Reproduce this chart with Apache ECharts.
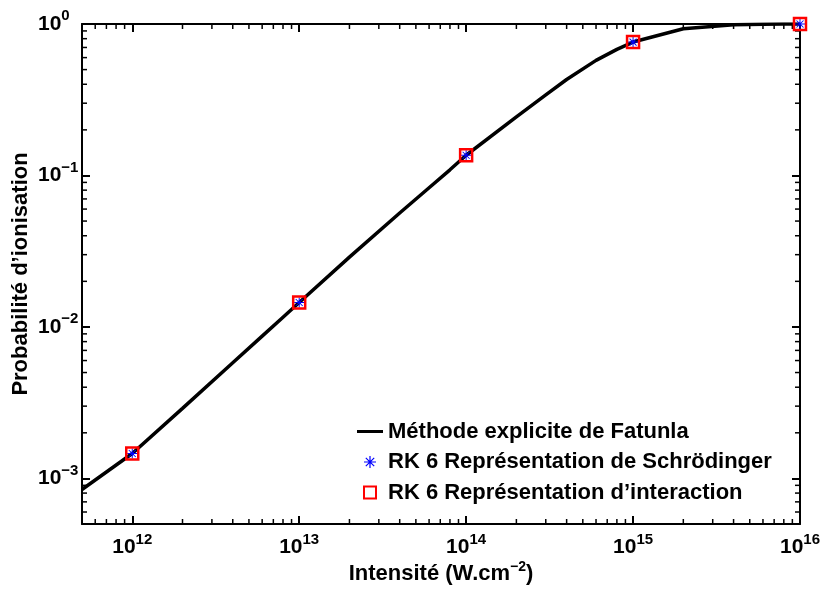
<!DOCTYPE html>
<html>
<head>
<meta charset="utf-8">
<script src="https://cdn.jsdelivr.net/npm/echarts@6/dist/echarts.min.js"></script>
<style>
  html, body { margin: 0; padding: 0; background: #fff; }
  #chart { width: 823px; height: 590px; }
</style>
</head>
<body>
<div id="chart"></div>
<script>
// axis ranges
const xMin = 5e11, xMax = 1e16;
const yMin = 5e-4, yMax = 1;

// Fatunla curve
const lineX = [5e11, 1e12, 2e12, 4e12, 6e12, 8e12, 1e13, 2e13, 4e13, 6e13, 8e13,
               1e14, 2e14, 3e14, 4e14, 6e14, 8e14, 1e15, 2e15, 4e15, 6e15, 8e15, 1e16];
const lineY = [8.45e-4, 1.46e-3, 2.9e-3, 5.8e-3, 8.7e-3, 1.16e-2, 1.45e-2, 2.89e-2, 5.65e-2, 8.3e-2, 0.109,
               0.136, 0.244, 0.34, 0.43, 0.575, 0.68, 0.76, 0.93, 0.99, 0.997, 0.999, 1.0];

// RK 6 points
const rkX = [1e12, 1e13, 1e14, 1e15, 1e16];
const rkSchrodinger = [1.46e-3, 1.45e-2, 0.136, 0.76, 1.0];
const rkInteraction = [1.46e-3, 1.45e-2, 0.136, 0.76, 1.0];

const names = [
    "Méthode explicite de Fatunla",
    "RK 6 Représentation de Schrödinger",
    "RK 6 Représentation d’interaction",
];

// minor tick positions (2..9 x 10^n)
const minorX = [6e11, 7e11, 8e11, 9e11];
const minorY = [6e-4, 7e-4, 8e-4, 9e-4];
for (let e = 12; e < 16; e++) for (let m = 2; m <= 9; m++) minorX.push(m * Math.pow(10, e));
for (let e = -3; e < 0; e++) for (let m = 2; m <= 9; m++) minorY.push(+(m * Math.pow(10, e)).toPrecision(3));

const font = "Liberation Sans, Arial, Helvetica, sans-serif";
const asterisk = "path://M0 9L20 9L20 11L0 11Z M9 0L11 0L11 20L9 20Z " +
    "M2.3 3.7L3.7 2.3L17.7 16.3L16.3 17.7Z M16.3 2.3L17.7 3.7L3.7 17.7L2.3 16.3Z";
const square = "path://M0 0L10 0L10 10L0 10Z";
const dash = "path://M0 0L26 0L26 3L0 3Z";

function sup(e) {
    return e < 0 ? "−" + -e : String(e);
}

function powLabel(v) {
    const e = Math.log10(v);
    if (Math.abs(e - Math.round(e)) > 1e-6) return "";
    return "{b|10}{s|" + sup(Math.round(e)) + "}";
}

const rich = {
    b: { fontSize: 21, fontWeight: "bold", fontFamily: font, color: "#000" },
    s: { fontSize: 15, fontWeight: "bold", fontFamily: font, color: "#000", padding: [0, 0, 16, 0] },
};

const axisLine = { lineStyle: { color: "#000", width: 2 } };
const axisTick = { inside: true, length: 8, lineStyle: { color: "#000", width: 2 } };

let chartOption = {
    animation: false,
    grid: { left: 82, right: 23, top: 24, bottom: 66, outerBoundsMode: "none", containLabel: false },
    xAxis: [
        {
            type: "log", logBase: 10, min: xMin, max: xMax, position: "bottom",
            axisLine: axisLine, axisTick: axisTick, splitLine: { show: false },
            axisLabel: { formatter: powLabel, rich: rich, margin: 8, showMinLabel: false },
            name: "{t|Intensité (W.cm}{u|−2}{t|)}",
            nameLocation: "middle", nameGap: 36, nameMoveOverlap: false,
            nameTextStyle: {
                rich: {
                    t: { fontSize: 22, fontWeight: "bold", fontFamily: font, color: "#000" },
                    u: { fontSize: 14, fontWeight: "bold", fontFamily: font, color: "#000", padding: [0, 0, 14, 0] },
                },
            },
        },
        {
            type: "log", logBase: 10, min: xMin, max: xMax, position: "top",
            axisLine: axisLine, axisTick: axisTick, splitLine: { show: false },
            axisLabel: { show: false },
        },
    ],
    yAxis: [
        {
            type: "log", logBase: 10, min: yMin, max: yMax, position: "left",
            axisLine: axisLine, axisTick: axisTick, splitLine: { show: false },
            axisLabel: { formatter: powLabel, rich: rich, margin: 44, align: "left", showMinLabel: false },
            name: "Probabilité d’ionisation",
            nameLocation: "middle", nameGap: 50, nameMoveOverlap: false,
            nameTextStyle: { fontSize: 22, fontWeight: "bold", fontFamily: font, color: "#000" },
        },
        {
            type: "log", logBase: 10, min: yMin, max: yMax, position: "right",
            axisLine: axisLine, axisTick: axisTick, splitLine: { show: false },
            axisLabel: { show: false },
        },
    ],
    legend: {
        orient: "vertical",
        left: 352,
        top: 414,
        itemWidth: 26,
        itemHeight: 12,
        itemGap: 5.5,
        textStyle: { fontSize: 22, fontWeight: "bold", fontFamily: font, color: "#000", lineHeight: 25 },
        data: [
            { name: names[0], icon: dash, itemStyle: { color: "#000" } },
            { name: names[1], icon: asterisk, itemStyle: { color: "#0000ff", borderWidth: 0 } },
            { name: names[2], icon: square, itemStyle: { color: "#fff", borderColor: "#ff0000", borderWidth: 2 } },
        ],
    },
    series: [
        {
            name: names[0],
            type: "line",
            data: lineX.map((x, i) => [x, lineY[i]]),
            symbol: "none",
            lineStyle: { color: "#000", width: 3.5 },
            itemStyle: { color: "#000" },
            clip: true,
            z: 2,
        },
        {
            name: names[1],
            type: "scatter",
            data: rkX.map((x, i) => [x, rkSchrodinger[i]]),
            symbol: asterisk,
            symbolSize: 10,
            itemStyle: { color: "#0000ff", opacity: 1 },
            clip: false,
            z: 3,
        },
        {
            name: names[2],
            type: "scatter",
            data: rkX.map((x, i) => [x, rkInteraction[i]]),
            symbol: "rect",
            symbolSize: 12,
            itemStyle: { color: "rgba(0,0,0,0)", borderColor: "#ff0000", borderWidth: 2.5, opacity: 1 },
            clip: false,
            z: 4,
        },
        {
            // minor ticks on all four sides
            type: "custom",
            silent: true,
            data: [[xMin, yMin]],
            renderItem: (params, api) => {
                const children = [];
                const style = { stroke: "#000", lineWidth: 1.5 };
                minorX.forEach((v) => {
                    const b = api.coord([v, yMin]);
                    const t = api.coord([v, yMax]);
                    children.push({ type: "line", shape: { x1: b[0], y1: b[1], x2: b[0], y2: b[1] - 5 }, style });
                    children.push({ type: "line", shape: { x1: t[0], y1: t[1], x2: t[0], y2: t[1] + 5 }, style });
                });
                minorY.forEach((v) => {
                    const l = api.coord([xMin, v]);
                    const r = api.coord([xMax, v]);
                    children.push({ type: "line", shape: { x1: l[0], y1: l[1], x2: l[0] + 5, y2: l[1] }, style });
                    children.push({ type: "line", shape: { x1: r[0], y1: r[1], x2: r[0] - 5, y2: r[1] }, style });
                });
                return { type: "group", children };
            },
            z: 1,
        },
    ],
};

const chart = echarts.init(document.getElementById("chart"));
chart.setOption(chartOption);
</script>
</body>
</html>
